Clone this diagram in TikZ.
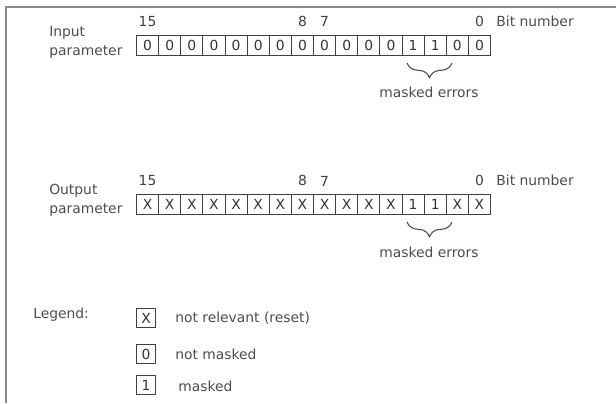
\documentclass[tikz,border=0pt]{standalone}
\usepackage{fontspec}
\setmainfont{DejaVu Sans}
\usetikzlibrary{positioning,decorations.pathreplacing}
\tikzset{
  lbl/.style={inner sep=0pt, text=black!70},
  numlbl/.style={inner sep=0pt, text=black!75},
  bitcell/.style={draw=black!75, line width=0.6pt, inner sep=0pt,
    minimum width=16.6pt, minimum height=15pt, text=black!80},
  legbox/.style={draw=black!75, line width=0.6pt, inner sep=0pt,
    minimum width=14pt, minimum height=14pt, text=black!80},
  maskbrace/.style={decorate, decoration={brace, mirror, amplitude=11pt, aspect=0.5},
    line width=0.8pt, draw=black!70}
}

\begin{document}
\begin{tikzpicture}[x=0.75pt, y=-0.75pt, font=\fontsize{10.4}{12}\selectfont]
			%%%%% FRAME %%%%%
			\useasboundingbox (0,0) rectangle (616,403);
			\draw[line width=1.4pt, color=black!45] (6,403) -- (6,7) -- (616,7);
			
			%%%%% INPUT %%%%%
			\node[lbl, anchor=west] (inname) at (49,33) {Input};
			\node[lbl, anchor=west] (inpar) at (49,52) {parameter};
			\foreach \v [count=\i from 0] in {0,0,0,0,0,0,0,0,0,0,0,0,1,1,0,0}
				\node[bitcell] (in\i) at ({136.5+22.125*(\i+0.5)},45) {\v};
			
			\node[numlbl, above=5.5pt of in0] (inb15) {15};
			\node[numlbl, above=5.5pt of in7] (inb8) {8};
			\node[numlbl, above=5.5pt of in8] (inb7) {7};
			\node[numlbl, above=5.5pt of in15] (inb0) {0};
			\node[lbl, anchor=base west] (inbitno) at ([xshift=9pt]inb0.base east) {Bit number};
			
			\coordinate (inbraceL) at (407,63);
			\coordinate (inbraceR) at (452,63);
			\draw[maskbrace] (inbraceL) -- (inbraceR);
			\node[lbl] (inmask) at (429,92) {masked errors};
			
			%%%%% OUTPUT %%%%%
			\node[lbl, anchor=west] (outname) at (49,191) {Output};
			\node[lbl, anchor=west] (outpar) at (49,210) {parameter};
			\foreach \v [count=\i from 0] in {X,X,X,X,X,X,X,X,X,X,X,X,1,1,X,X}
				\node[bitcell] (out\i) at ({136.5+22.125*(\i+0.5)},204) {\v};
			
			\node[numlbl, above=5.5pt of out0] (outb15) {15};
			\node[numlbl, above=5.5pt of out7] (outb8) {8};
			\node[numlbl, above=5.5pt of out8] (outb7) {7};
			\node[numlbl, above=5.5pt of out15] (outb0) {0};
			\node[lbl, anchor=base west] (outbitno) at ([xshift=9pt]outb0.base east) {Bit number};
			
			\coordinate (outbraceL) at (407,222);
			\coordinate (outbraceR) at (452,222);
			\draw[maskbrace] (outbraceL) -- (outbraceR);
			\node[lbl] (outmask) at (429,252) {masked errors};
			
			%%%%% LEGEND %%%%%
			\node[lbl, anchor=west] (legend) at (33,315) {Legend:};
			\node[legbox] (legX) at (146,318) {X};
			\node[lbl, anchor=west] (legXtxt) at (175,318) {not relevant (reset)};
			\node[legbox] (leg0) at (146,354) {0};
			\node[lbl, anchor=west] (leg0txt) at (175,354) {not masked};
			\node[legbox] (leg1) at (146,385) {1};
			\node[lbl, anchor=west] (leg1txt) at (178,386) {masked};
		\end{tikzpicture}
\end{document}
